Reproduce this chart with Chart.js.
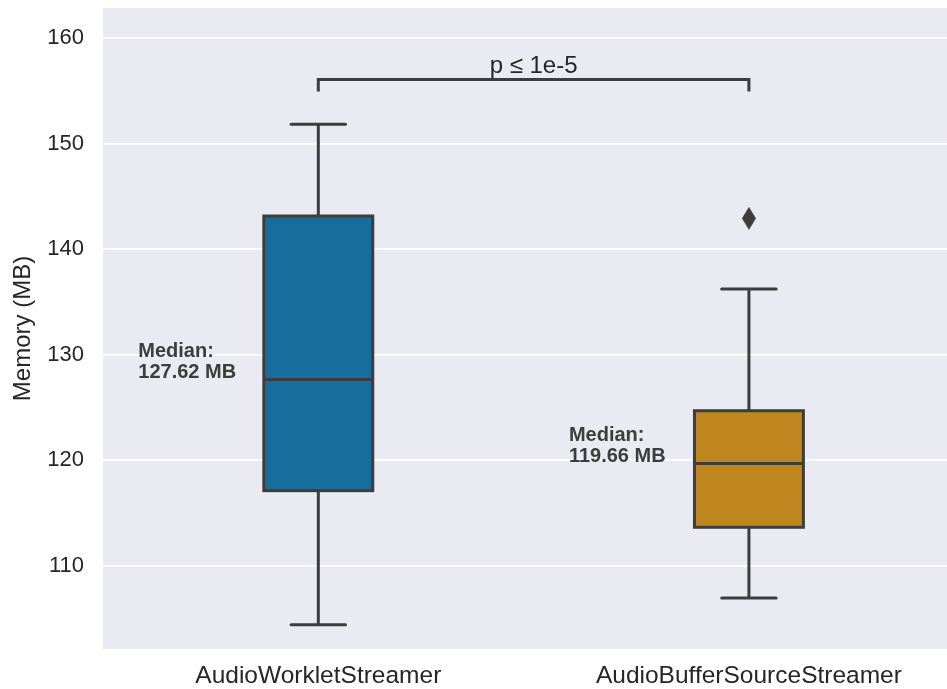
<!DOCTYPE html>
<html>
<head>
<meta charset="utf-8">
<script src="https://cdn.jsdelivr.net/npm/chart.js@4.4.1/dist/chart.umd.min.js"></script>
<style>
  html, body { margin: 0; padding: 0; background: #ffffff; }
  #wrap { width: 947px; height: 689px; position: relative; overflow: hidden; }
</style>
</head>
<body>
<div id="wrap"><canvas id="chartCanvas"></canvas></div>
<script>
// box plot values (MB)
const categories = ["AudioWorkletStreamer", "AudioBufferSourceStreamer"];
const whiskerLow = [104.39, 106.92];
const q1 = [117.09, 113.62];
const medians = [127.62, 119.66];
const q3 = [143.13, 124.67];
const whiskerHigh = [151.82, 136.21];
const outliers = [[], [142.91]];
const yTicks = [110, 120, 130, 140, 150, 160];

// significance bracket
const bracketFrom = 0, bracketTo = 1;
const bracketY = 156.08, bracketDrop = 1.15;
const bracketLabel = "p \u2264 1e-5";

const boxColors = ["#176d9c", "#c0861f"];
const edge = "#3d3d3d";
const FONT = "'Liberation Sans', Arial, sans-serif";
const boxWidth = 0.253;

function thinDiamond(w, h, color) {
    const c = document.createElement("canvas");
    c.width = w; c.height = h;
    const g = c.getContext("2d");
    g.fillStyle = color;
    g.beginPath();
    g.moveTo(w / 2, 0); g.lineTo(w, h / 2); g.lineTo(w / 2, h); g.lineTo(0, h / 2);
    g.closePath();
    g.fill();
    return c;
}

const outlierPoints = [];
outliers.forEach((vals, i) => vals.forEach(v => outlierPoints.push({ x: i, y: v })));

// plot background
const bgPlugin = {
    id: "bg",
    beforeDraw(chart) {
        const { ctx, chartArea: a } = chart;
        ctx.save();
        ctx.fillStyle = "#eaeaf2";
        ctx.fillRect(a.left, a.top, a.right - a.left, a.bottom - a.top);
        ctx.restore();
    }
};

// boxes, whiskers, medians, labels and bracket
const boxPlugin = {
    id: "boxes",
    beforeDatasetsDraw(chart) {
        const ctx = chart.ctx;
        const xs = chart.scales.x, ys = chart.scales.y;
        ctx.save();
        ctx.lineWidth = 3;
        ctx.strokeStyle = edge;
        categories.forEach((c, i) => {
            const xc = xs.getPixelForValue(i);
            const xl = xs.getPixelForValue(i - boxWidth / 2);
            const xr = xs.getPixelForValue(i + boxWidth / 2);
            const cl = xs.getPixelForValue(i - boxWidth / 4);
            const cr = xs.getPixelForValue(i + boxWidth / 4);
            const yq1 = ys.getPixelForValue(q1[i]);
            const yq3 = ys.getPixelForValue(q3[i]);
            const ymed = ys.getPixelForValue(medians[i]);
            const ylo = ys.getPixelForValue(whiskerLow[i]);
            const yhi = ys.getPixelForValue(whiskerHigh[i]);

            // whiskers + caps
            ctx.lineCap = "round";
            ctx.beginPath();
            ctx.moveTo(xc, yq3); ctx.lineTo(xc, yhi);
            ctx.moveTo(cl, yhi); ctx.lineTo(cr, yhi);
            ctx.moveTo(xc, yq1); ctx.lineTo(xc, ylo);
            ctx.moveTo(cl, ylo); ctx.lineTo(cr, ylo);
            ctx.stroke();

            // box
            ctx.lineCap = "butt";
            ctx.fillStyle = boxColors[i];
            ctx.fillRect(xl, yq3, xr - xl, yq1 - yq3);
            ctx.strokeRect(xl, yq3, xr - xl, yq1 - yq3);

            // median
            ctx.beginPath();
            ctx.moveTo(xl, ymed); ctx.lineTo(xr, ymed);
            ctx.stroke();

            // median label
            const tx = xs.getPixelForValue(i - 0.418);
            ctx.fillStyle = edge;
            ctx.font = "bold 20px " + FONT;
            ctx.textAlign = "left";
            ctx.textBaseline = "alphabetic";
            ctx.fillText("Median:", tx, ymed - 23);
            ctx.fillText(medians[i].toFixed(2) + " MB", tx, ymed - 1.5);
        });

        // bracket
        const bx1 = xs.getPixelForValue(bracketFrom);
        const bx2 = xs.getPixelForValue(bracketTo);
        const by = ys.getPixelForValue(bracketY);
        const bd = ys.getPixelForValue(bracketY - bracketDrop);
        ctx.lineWidth = 3;
        ctx.lineJoin = "miter";
        ctx.lineCap = "butt";
        ctx.beginPath();
        ctx.moveTo(bx1, bd); ctx.lineTo(bx1, by); ctx.lineTo(bx2, by); ctx.lineTo(bx2, bd);
        ctx.stroke();
        ctx.fillStyle = "#262626";
        ctx.font = "24px " + FONT;
        ctx.textAlign = "center";
        ctx.textBaseline = "alphabetic";
        ctx.fillText(bracketLabel, (bx1 + bx2) / 2, by - 6.5);
        ctx.restore();
    }
};

const ctx = document.getElementById("chartCanvas").getContext("2d");
new Chart(ctx, {
    type: "scatter",
    data: {
        datasets: [{
            label: "outliers",
            data: outlierPoints,
            pointStyle: thinDiamond(14, 23, edge),
            pointRadius: 8
        }]
    },
    options: {
        responsive: true,
        maintainAspectRatio: false,
        animation: false,
        layout: { autoPadding: false, padding: { top: 8, left: 0, right: 0, bottom: 0 } },
        plugins: { legend: { display: false }, tooltip: { enabled: false } },
        scales: {
            x: {
                type: "linear",
                min: -0.5,
                max: 1.46,
                grid: { display: false, drawTicks: false },
                border: { display: false },
                afterBuildTicks(scale) {
                    scale.ticks = categories.map((c, i) => ({ value: i }));
                },
                afterFit(scale) {
                    scale.height = 40;
                    scale.paddingLeft = 0;
                    scale.paddingRight = 0;
                },
                ticks: {
                    autoSkip: false,
                    maxRotation: 0,
                    padding: 13,
                    color: "#262626",
                    font: { family: FONT, size: 24.5 },
                    callback: v => categories[v]
                }
            },
            y: {
                min: 102.08,
                max: 162.85,
                afterBuildTicks(scale) {
                    scale.ticks = yTicks.map(v => ({ value: v }));
                },
                afterFit(scale) {
                    scale.width = 103;
                    scale.paddingTop = 0;
                    scale.paddingBottom = 0;
                },
                grid: { color: "#ffffff", lineWidth: 1.8, drawTicks: false },
                border: { display: false },
                ticks: {
                    padding: 19,
                    color: "#262626",
                    font: { family: FONT, size: 22 }
                },
                title: {
                    display: true,
                    text: "Memory (MB)",
                    color: "#262626",
                    font: { family: FONT, size: 24 },
                    padding: { top: 9, bottom: 0 }
                }
            }
        }
    },
    plugins: [bgPlugin, boxPlugin]
});
</script>
</body>
</html>
